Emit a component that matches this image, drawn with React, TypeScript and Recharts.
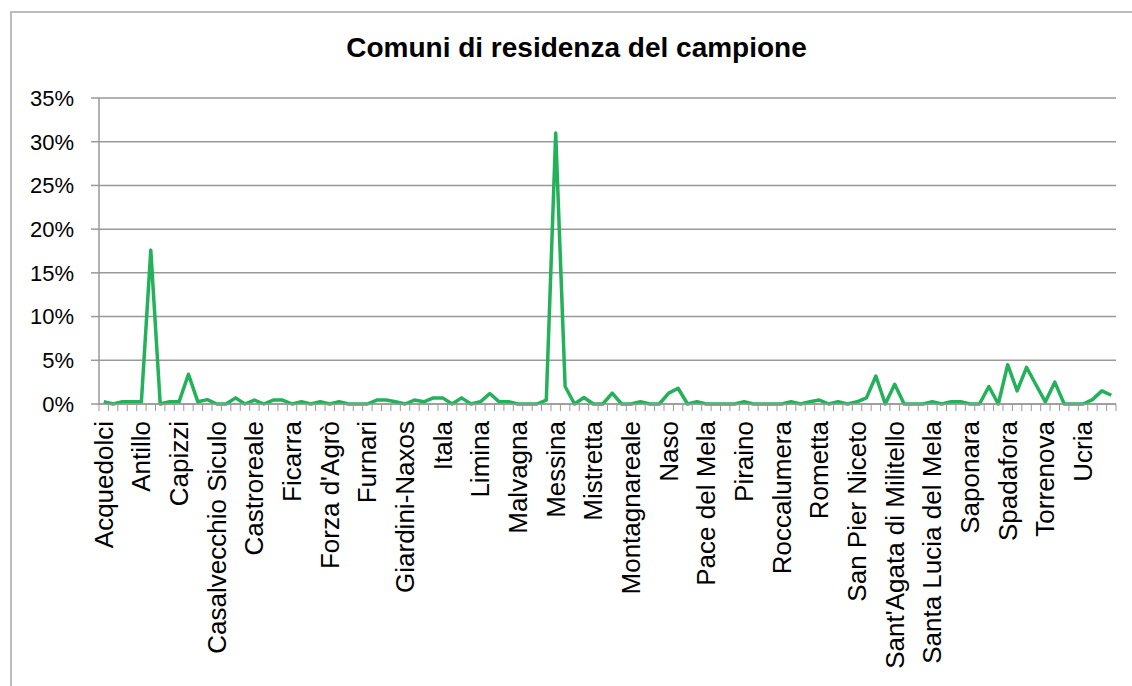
import { LineChart, Line, XAxis, YAxis, CartesianGrid } from "recharts";

const TITLE = "Comuni di residenza del campione";

// comuni della provincia di Messina, in the order of the sheet
const COMUNI = [
  "Acquedolci", "Alcara li Fusi", "Alì", "Alì Terme", "Antillo",
  "Barcellona Pozzo di Gotto", "Basicò", "Brolo", "Capizzi", "Capo d'Orlando",
  "Capri Leone", "Caronia", "Casalvecchio Siculo", "Castel di Lucio", "Castell'Umberto",
  "Castelmola", "Castroreale", "Cesarò", "Condrò", "Falcone",
  "Ficarra", "Fiumedinisi", "Floresta", "Fondachelli-Fantina", "Forza d'Agrò",
  "Francavilla di Sicilia", "Frazzanò", "Furci Siculo", "Furnari", "Gaggi",
  "Galati Mamertino", "Gallodoro", "Giardini-Naxos", "Gioiosa Marea", "Graniti",
  "Gualtieri Sicaminò", "Itala", "Leni", "Letojanni", "Librizzi",
  "Limina", "Lipari", "Longi", "Malfa", "Malvagna",
  "Mandanici", "Mazzarrà Sant'Andrea", "Merì", "Messina", "Milazzo",
  "Militello Rosmarino", "Mirto", "Mistretta", "Moio Alcantara", "Monforte San Giorgio",
  "Mongiuffi Melia", "Montagnareale", "Montalbano Elicona", "Motta Camastra", "Motta d'Affermo",
  "Naso", "Nizza di Sicilia", "Novara di Sicilia", "Oliveri", "Pace del Mela",
  "Pagliara", "Patti", "Pettineo", "Piraino", "Raccuja",
  "Reitano", "Roccafiorita", "Roccalumera", "Roccavaldina", "Roccella Valdemone",
  "Rodì Milici", "Rometta", "San Filippo del Mela", "San Fratello", "San Marco d'Alunzio",
  "San Pier Niceto", "San Piero Patti", "San Salvatore di Fitalia", "San Teodoro", "Sant'Agata di Militello",
  "Sant'Alessio Siculo", "Sant'Angelo di Brolo", "Santa Domenica Vittoria", "Santa Lucia del Mela", "Santa Marina Salina",
  "Santa Teresa di Riva", "Santo Stefano di Camastra", "Saponara", "Savoca", "Scaletta Zanclea",
  "Sinagra", "Spadafora", "Taormina", "Terme Vigliatore", "Torregrotta",
  "Torrenova", "Tortorici", "Tripi", "Tusa", "Ucria",
  "Valdina", "Venetico", "Villafranca Tirrena",
];

// % del campione
const PERCENT = [
  0.25, 0, 0.25, 0.25, 0.25, 17.6, 0, 0.25, 0.25, 3.4,
  0.25, 0.5, 0, 0, 0.7, 0, 0.45, 0, 0.45, 0.45,
  0, 0.25, 0, 0.25, 0, 0.25, 0, 0, 0, 0.45,
  0.45, 0.25, 0, 0.45, 0.25, 0.7, 0.7, 0, 0.7, 0,
  0.25, 1.2, 0.25, 0.25, 0, 0, 0, 0.45, 31, 2.0,
  0, 0.75, 0, 0, 1.25, 0, 0, 0.25, 0, 0,
  1.25, 1.8, 0, 0.25, 0, 0, 0, 0, 0.25, 0,
  0, 0, 0, 0.25, 0, 0.25, 0.45, 0, 0.25, 0,
  0.25, 0.7, 3.2, 0, 2.25, 0, 0, 0, 0.25, 0,
  0.25, 0.25, 0, 0, 2.0, 0, 4.5, 1.5, 4.2, 2.2,
  0.25, 2.5, 0, 0, 0, 0.5, 1.5, 1.0,
];

const Y_TICKS = [0, 5, 10, 15, 20, 25, 30, 35];
const LABEL_EVERY = 4;

const W = 1132;
const H = 686;
const PLOT_LEFT = 99;
const PLOT_RIGHT = 1116;
const PLOT_TOP = 98;
const PLOT_BOTTOM = 404;
const BAND = (PLOT_RIGHT - PLOT_LEFT) / COMUNI.length;

const GREEN = "#23B15A";
const GRID = "#999999";

const data = COMUNI.map((comune, i) => ({ comune, pct: PERCENT[i] }));

// tick marks sit between categories, labels only every 4th comune
// eslint-disable-next-line @typescript-eslint/no-explicit-any
function XTick(props: any) {
  const { x, y, payload } = props;
  const i: number = props.index ?? payload.index;
  return (
    <g>
      <line x1={x - BAND / 2} x2={x - BAND / 2} y1={y} y2={y + 7} stroke={GRID} strokeWidth={1} />
      {i === COMUNI.length - 1 && (
        <line x1={x + BAND / 2} x2={x + BAND / 2} y1={y} y2={y + 7} stroke={GRID} strokeWidth={1} />
      )}
      {i % LABEL_EVERY === 0 && (
        <text
          x={x}
          y={y + 17}
          dy="0.35em"
          transform={`rotate(-90, ${x}, ${y + 17})`}
          textAnchor="end"
          fontSize={26}
          fill="#000"
        >
          {payload.value}
        </text>
      )}
    </g>
  );
}

export default function App() {
  return (
    <div
      style={{
        position: "absolute",
        top: 0,
        left: 0,
        width: W,
        height: H,
        overflow: "hidden",
        background: "#fff",
        fontFamily: "'Liberation Sans', Arial, sans-serif",
      }}
    >
      <div
        style={{
          position: "absolute",
          top: 11,
          left: 10,
          width: W + 40,
          height: H + 40,
          border: "2px solid #bcbcbc",
        }}
      />
      <div
        style={{
          position: "absolute",
          top: 34,
          left: 0,
          width: 1153,
          textAlign: "center",
          fontSize: 28,
          lineHeight: "28px",
          fontWeight: "bold",
          color: "#000",
        }}
      >
        {TITLE}
      </div>
      <div style={{ position: "absolute", top: 0, left: 0 }}>
        <LineChart
          width={W}
          height={H}
          data={data}
          margin={{ top: PLOT_TOP, right: W - PLOT_RIGHT, bottom: 0, left: 0 }}
        >
          <CartesianGrid vertical={false} stroke={GRID} strokeWidth={1.5} />
          <XAxis
            dataKey="comune"
            type="category"
            interval={0}
            height={H - PLOT_BOTTOM}
            padding={{ left: BAND / 2, right: BAND / 2 }}
            tickLine={false}
            tickSize={0}
            tickMargin={0}
            axisLine={{ stroke: GRID, strokeWidth: 1.5 }}
            tick={<XTick />}
          />
          <YAxis
            width={PLOT_LEFT}
            domain={[0, 35]}
            ticks={Y_TICKS}
            tickFormatter={(v: number) => `${v}%`}
            tickSize={8}
            tickMargin={17}
            tickLine={{ stroke: GRID, strokeWidth: 1.5 }}
            axisLine={{ stroke: GRID, strokeWidth: 1.5 }}
            tick={{ fill: "#000", fontSize: 22 }}
          />
          <Line
            type="linear"
            dataKey="pct"
            stroke={GREEN}
            strokeWidth={3.5}
            strokeLinejoin="round"
            dot={false}
            isAnimationActive={false}
          />
        </LineChart>
      </div>
    </div>
  );
}
